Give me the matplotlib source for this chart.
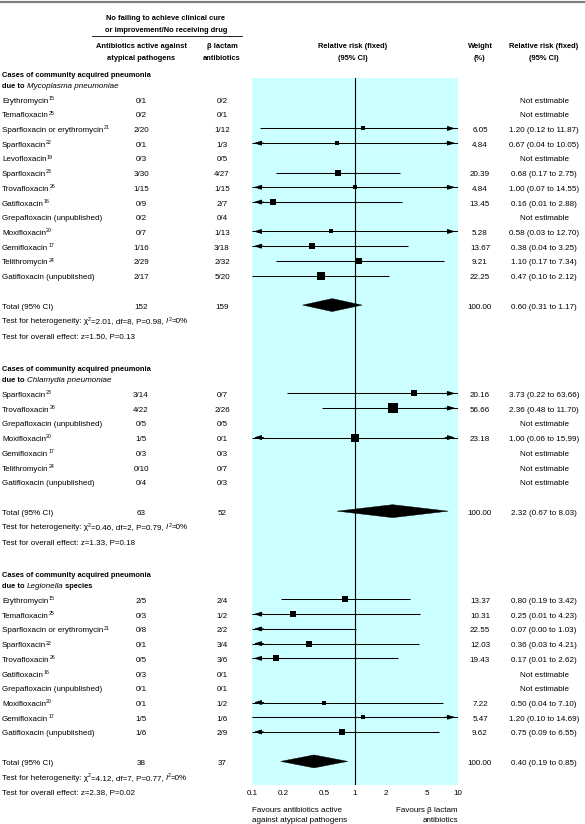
import numpy as np
import matplotlib
matplotlib.use('Agg')
import matplotlib.pyplot as plt
from matplotlib import font_manager as fm
from matplotlib.transforms import blended_transform_factory, ScaledTranslation
from matplotlib.patches import Polygon
from matplotlib.lines import Line2D
from matplotlib.ticker import NullLocator

nan = np.nan

# ---------------- data ----------------
myco_study = ['Erythromycin', 'Temafloxacin', 'Sparfloxacin or erythromycin', 'Sparfloxacin',
              'Levofloxacin', 'Sparfloxacin', 'Trovafloxacin', 'Gatifloxacin',
              'Grepafloxacin (unpublished)', 'Moxifloxacin', 'Gemifloxacin', 'Telithromycin',
              'Gatifloxacin (unpublished)']
myco_ref = ['15', '25', '21', '22', '19', '23', '26', '16', '', '20', '17', '24', '']
myco_atyp = ['0/1', '0/2', '2/20', '0/1', '0/3', '3/30', '1/15', '0/9', '0/2', '0/7', '1/16', '2/29', '2/17']
myco_blac = ['0/2', '0/1', '1/12', '1/3', '0/5', '4/27', '1/15', '2/7', '0/4', '1/13', '3/18', '2/32', '5/20']
myco_weight = [nan, nan, 6.05, 4.84, nan, 20.39, 4.84, 13.45, nan, 5.28, 13.67, 9.21, 22.25]
myco_rr = [nan, nan, 1.20, 0.67, nan, 0.68, 1.00, 0.16, nan, 0.58, 0.38, 1.10, 0.47]
myco_lo = [nan, nan, 0.12, 0.04, nan, 0.17, 0.07, 0.01, nan, 0.03, 0.04, 0.17, 0.10]
myco_hi = [nan, nan, 11.87, 10.05, nan, 2.75, 14.55, 2.88, nan, 12.70, 3.25, 7.34, 2.12]
myco_total_n = ['152', '159']
myco_total = [0.60, 0.31, 1.17]
myco_het = ['2.01', '8', '0.98', '0']
myco_z = ['1.50', '0.13']

chla_study = ['Sparfloxacin', 'Trovafloxacin', 'Grepafloxacin (unpublished)', 'Moxifloxacin',
              'Gemifloxacin', 'Telithromycin', 'Gatifloxacin (unpublished)']
chla_ref = ['23', '26', '', '20', '17', '24', '']
chla_atyp = ['3/14', '4/22', '0/5', '1/5', '0/3', '0/10', '0/4']
chla_blac = ['0/7', '2/26', '0/5', '0/1', '0/3', '0/7', '0/3']
chla_weight = [20.16, 56.66, nan, 23.18, nan, nan, nan]
chla_rr = [3.73, 2.36, nan, 1.00, nan, nan, nan]
chla_lo = [0.22, 0.48, nan, 0.06, nan, nan, nan]
chla_hi = [63.66, 11.70, nan, 15.99, nan, nan, nan]
chla_total_n = ['63', '52']
chla_total = [2.32, 0.67, 8.03]
chla_het = ['0.46', '2', '0.79', '0']
chla_z = ['1.33', '0.18']

legi_study = ['Erythromycin', 'Temafloxacin', 'Sparfloxacin or erythromycin', 'Sparfloxacin',
              'Trovafloxacin', 'Gatifloxacin', 'Grepafloxacin (unpublished)', 'Moxifloxacin',
              'Gemifloxacin', 'Gatifloxacin (unpublished)']
legi_ref = ['15', '25', '21', '22', '26', '16', '', '20', '17', '']
legi_atyp = ['2/5', '0/3', '0/8', '0/1', '0/5', '0/3', '0/1', '0/1', '1/5', '1/6']
legi_blac = ['2/4', '1/2', '2/2', '3/4', '3/6', '0/1', '0/1', '1/2', '1/6', '2/9']
legi_weight = [13.37, 10.31, 22.55, 12.03, 19.43, nan, nan, 7.22, 5.47, 9.62]
legi_rr = [0.80, 0.25, 0.07, 0.36, 0.17, nan, nan, 0.50, 1.20, 0.75]
legi_lo = [0.19, 0.01, 0.00, 0.03, 0.01, nan, nan, 0.04, 0.10, 0.09]
legi_hi = [3.42, 4.23, 1.03, 4.21, 2.62, nan, nan, 7.10, 14.69, 6.55]
legi_total_n = ['38', '37']
legi_total = [0.40, 0.19, 0.85]
legi_het = ['4.12', '7', '0.77', '0']
legi_z = ['2.38', '0.02']

section_title = ['Cases of community acquired pneumonia'] * 3
section_organism = ['Mycoplasma pneumoniae', 'Chlamydia pneumoniae', 'Legionella']
section_suffix = ['', '', ' species']

tick_vals = [0.1, 0.2, 0.5, 1, 2, 5, 10]
tick_labels = ['0.1', '0.2', '0.5', '1', '2', '5', '10']

# ---------------- fonts ----------------
installed = {f.name for f in fm.fontManager.ttflist}
if 'Liberation Sans Narrow' in installed:
    FONT, FS = 'Liberation Sans Narrow', 6.9
else:
    FONT, FS = 'Liberation Sans', 5.8
FSB = FS * 0.93  # bold text size
plt.rcParams['font.family'] = [FONT, 'DejaVu Sans']

# ---------------- layout ----------------
W, H, DPI = 585, 824, 100
ROW_PX = 14.72
ROW0_PX = 99.0
PANEL_L, PANEL_R, PANEL_T, PANEL_B = 252, 458, 78, 785
X_NAME, X_C1, X_C2, X_W, X_RR = 2, 141, 222, 480, 544
BASE = 0.24  # baseline offset (rows) from row centre

fig = plt.figure(figsize=(W / DPI, H / DPI), dpi=DPI)
renderer = fig.canvas.get_renderer()
ax = fig.add_axes([PANEL_L / W, 1 - PANEL_B / H, (PANEL_R - PANEL_L) / W, (PANEL_B - PANEL_T) / H])
ax.set_facecolor('#ccffff')
ax.set_xscale('log')
ax.set_xlim(0.1, 10)
ax.set_ylim((PANEL_B - ROW0_PX) / ROW_PX, (PANEL_T - ROW0_PX) / ROW_PX)
for sp in ax.spines.values():
    sp.set_visible(False)
ax.set_yticks([])
ax.set_xticks(tick_vals)
ax.set_xticklabels(tick_labels, fontsize=FS)
ax.xaxis.set_minor_locator(NullLocator())
ax.tick_params(axis='x', length=0, pad=3.6)
ax.axvline(1, color='black', lw=0.8, zorder=2)

tr = blended_transform_factory(fig.transFigure, ax.transData)
sup_tr = tr + ScaledTranslation(0, 0.33 * FS / 72, fig.dpi_scale_trans)


def rtext(xpx, y, s, ha='left', bold=False):
    kw = dict(fontweight='bold', fontsize=FSB) if bold else dict(fontsize=FS)
    return ax.text(xpx / W, y + BASE, s, transform=tr, ha=ha, va='baseline',
                   clip_on=False, **kw)


def rich(xpx, y, segs):
    """Draw text segments left to right: segs = [(text, style), ...]."""
    x = xpx / W
    for s, style in segs:
        kw = dict(ha='left', va='baseline', clip_on=False)
        if style == 'sup':
            t = ax.text(x, y + BASE, s, transform=sup_tr, fontsize=FS * 0.66, **kw)
        elif style == 'italic':
            t = ax.text(x, y + BASE, s, transform=tr, fontsize=FS, style='italic', **kw)
        elif style == 'bold':
            t = ax.text(x, y + BASE, s, transform=tr, fontsize=FSB, fontweight='bold', **kw)
        else:
            t = ax.text(x, y + BASE, s, transform=tr, fontsize=FS, **kw)
        bb = t.get_window_extent(renderer)
        x = bb.x1 / fig.bbox.width


def ftext(xpx, ypx, s, ha='center', bold=False):
    kw = dict(fontweight='bold', fontsize=FSB) if bold else dict(fontsize=FS)
    fig.text(xpx / W, 1 - (ypx + 3.5) / H, s, ha=ha, va='baseline', **kw)


def arrow(y, side):
    if side == 'left':
        tip, tail = 0.104, 0.13
    else:
        tip, tail = 9.4, 7.5
    ax.annotate('', xy=(tip, y), xytext=(tail, y),
                arrowprops=dict(arrowstyle='-|>,head_length=0.55,head_width=0.17',
                                color='black', lw=0.7, shrinkA=0, shrinkB=0,
                                mutation_scale=8), zorder=3)


sections = [
    (myco_study, myco_ref, myco_atyp, myco_blac, myco_weight, myco_rr, myco_lo, myco_hi,
     myco_total_n, myco_total, myco_het, myco_z),
    (chla_study, chla_ref, chla_atyp, chla_blac, chla_weight, chla_rr, chla_lo, chla_hi,
     chla_total_n, chla_total, chla_het, chla_z),
    (legi_study, legi_ref, legi_atyp, legi_blac, legi_weight, legi_rr, legi_lo, legi_hi,
     legi_total_n, legi_total, legi_het, legi_z),
]

start = 0
for k, (study, ref, atyp, blac, wt, rr, lo, hi, tot_n, tot, het, z) in enumerate(sections):
    rtext(X_NAME, start - 1.75, section_title[k], bold=True)
    segs = [('due to ', 'bold'), (section_organism[k], 'italic')]
    if section_suffix[k]:
        segs.append((section_suffix[k], 'bold'))
    rich(X_NAME, start - 1.0, segs)
    n = len(study)
    for i in range(n):
        y = start + i
        rich(X_NAME, y, [(study[i], 'normal')] + ([(ref[i], 'sup')] if ref[i] else []))
        rtext(X_C1, y, atyp[i], ha='center')
        rtext(X_C2, y, blac[i], ha='center')
        if np.isnan(rr[i]):
            rtext(X_RR, y, 'Not estimable', ha='center')
            continue
        rtext(X_W, y, '%.2f' % wt[i], ha='center')
        rtext(X_RR, y, '%.2f (%.2f to %.2f)' % (rr[i], lo[i], hi[i]), ha='center')
        x0 = max(lo[i], 0.1)
        x1 = min(hi[i], 10)
        ax.plot([x0, x1], [y, y], color='black', lw=0.75, zorder=3, solid_capstyle='butt')
        if lo[i] < 0.1:
            arrow(y, 'left')
        if hi[i] > 10:
            arrow(y, 'right')
        side_pt = (1.6 + 1.15 * np.sqrt(wt[i])) * 0.72
        ax.scatter([rr[i]], [y], marker='s', s=side_pt ** 2, color='black', linewidths=0,
                   zorder=4)
    yt = start + n + 1
    rtext(X_NAME, yt, 'Total (95% CI)')
    rtext(X_C1, yt, tot_n[0], ha='center')
    rtext(X_C2, yt, tot_n[1], ha='center')
    rtext(X_W, yt, '100.00', ha='center')
    rtext(X_RR, yt, '%.2f (%.2f to %.2f)' % tuple(tot), ha='center')
    hh = 0.44
    ax.add_patch(Polygon([(tot[1], yt), (tot[0], yt - hh), (tot[2], yt), (tot[0], yt + hh)],
                         closed=True, facecolor='black', edgecolor='black', lw=0.3, zorder=4))
    rich(X_NAME, yt + 1, [('Test for heterogeneity: χ', 'normal'), ('2', 'sup'),
                          ('=%s, df=%s, P=%s, ' % (het[0], het[1], het[2]), 'normal'),
                          ('I', 'italic'), ('2', 'sup'), ('=%s%%' % het[3], 'normal')])
    rtext(X_NAME, yt + 2, 'Test for overall effect: z=%s, P=%s' % tuple(z))
    start = yt + 2 + 4

# ---------------- headers ----------------
fig.add_artist(Line2D([0, 1], [1 - 1.5 / H] * 2, transform=fig.transFigure, color='#808080', lw=1.6))
ftext(166, 16, 'No failing to achieve clinical cure', bold=True)
ftext(166, 28, 'or improvement/No receiving drug', bold=True)
fig.add_artist(Line2D([92 / W, 242 / W], [1 - 36 / H] * 2, transform=fig.transFigure,
                      color='black', lw=0.6))
ftext(X_C1, 45, 'Antibiotics active against', bold=True)
ftext(X_C1, 57, 'atypical pathogens', bold=True)
ftext(X_C2, 45, 'β lactam', bold=True)
ftext(X_C2, 57, 'antibiotics', bold=True)
ftext(353, 45, 'Relative risk (fixed)', bold=True)
ftext(353, 57, '(95% CI)', bold=True)
ftext(X_W, 45, 'Weight', bold=True)
ftext(X_W, 57, '(%)', bold=True)
ftext(X_RR, 45, 'Relative risk (fixed)', bold=True)
ftext(X_RR, 57, '(95% CI)', bold=True)

ftext(PANEL_L, 808, 'Favours antibiotics active', ha='left')
ftext(PANEL_L, 819, 'against atypical pathogens', ha='left')
ftext(PANEL_R, 808, 'Favours β lactam', ha='right')
ftext(PANEL_R, 819, 'antibiotics', ha='right')

fig.savefig('out.png', dpi=DPI)
